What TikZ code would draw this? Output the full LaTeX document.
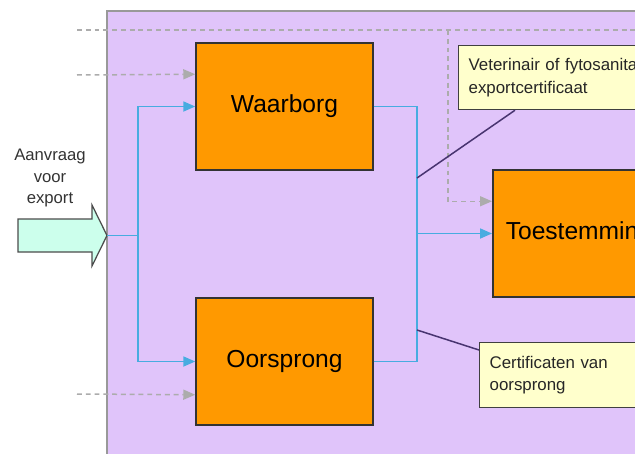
\documentclass[tikz,border=0pt]{standalone}
\usepackage{fontspec}
\setmainfont{Liberation Sans}
\usepackage{xcolor}
\usepackage{tikz}
\usetikzlibrary{arrows.meta,calc}

\definecolor{panelViolet}{RGB}{224,196,250}
\definecolor{boxOrange}{RGB}{255,153,0}
\definecolor{noteYellow}{RGB}{255,255,204}
\definecolor{flowBlue}{RGB}{72,172,224}
\definecolor{arrowMint}{RGB}{204,255,236}
\definecolor{dashGray}{RGB}{172,172,172}
\definecolor{pointerInk}{RGB}{72,52,112}

\tikzstyle{tsProcess} = [
    rectangle,
    draw=black!80,
    fill=boxOrange,
    line width=0.3mm,
    text=black,
    minimum width=3.54cm,
    minimum height=2.54cm,
    font=\fontsize{14}{17}\selectfont
]
\tikzstyle{tsNote} = [
    rectangle,
    draw=black!75,
    fill=noteYellow,
    line width=0.25mm,
    anchor=north west,
    align=left,
    text width=5cm,
    inner xsep=0.2cm,
    text=black!85,
    font=\fontsize{9.6}{12.8}\selectfont
]
\tikzstyle{tsFlow} = [
    draw=flowBlue,
    line width=0.35mm
]
\tikzstyle{tsFlowTip} = [
    tsFlow,
    -{Triangle[length=0.24cm,width=0.2cm]}
]
\tikzstyle{tsControl} = [
    draw=dashGray,
    line width=0.3mm,
    dash pattern=on 2.8pt off 2.2pt
]
\tikzstyle{tsControlTip} = [
    tsControl,
    -{Triangle[length=0.24cm,width=0.2cm,fill=dashGray]}
]
\tikzstyle{tsPointer} = [
    draw=pointerInk,
    line width=0.3mm
]

\begin{document}
\begin{tikzpicture}[x=0.02cm, y=-0.02cm]
        \useasboundingbox (0,0) rectangle (635,453);
        \clip (0,0) rectangle (635,453);

        % Panel
        \draw[fill=panelViolet, draw=black!40, line width=0.3mm] (107,11) rectangle (660,470);

        % Request arrow
        \draw[fill=arrowMint, draw=black!70, line width=0.25mm]
            (18,219) -- (92,219) -- (92,205) -- (107,235.5) -- (92,266) -- (92,252) -- (18,252) -- cycle;
        \coordinate (aanvraag) at (107,235.5);
        \node[align=center, text=black!80, font=\fontsize{9.5}{12}\selectfont]
            (aanvraagLabel) at (50,178) {Aanvraag\\voor\\export};

        % Define nodes
        \node[tsProcess] (waarborg) at (284.5,106.5) {Waarborg};
        \node[tsProcess] (oorsprong) at (284.5,361.5) {Oorsprong};
        \node[  tsProcess,
                anchor=west,
                text width=3.68cm,
                inner xsep=0.26cm,
                align=left] (toestemming) at (492,233.5) {Toestemming};

        \node[tsNote, minimum height=1.28cm] (veterinair) at (458,45)
            {Veterinair of fytosanitair\\exportcertificaat};
        \node[tsNote, minimum height=1.3cm] (certificaten) at (479,342)
            {Certificaten van\\oorsprong};

        % Control lines
        \coordinate (ctrlTop) at (77,30);
        \coordinate (ctrlTopEnd) at (640,30);
        \coordinate (ctrlBranch) at (448,30);
        \coordinate (ctrlWaarborg) at (77,75);
        \coordinate (ctrlOorsprong) at (77,394);
        \draw[tsControl] (ctrlTop) -- (ctrlTopEnd);
        \draw[tsControlTip] (ctrlBranch) |- ([yshift=-0.64cm]toestemming.north west);
        \draw[tsControlTip] (ctrlWaarborg) -- ([yshift=-0.64cm]waarborg.north west);
        \draw[tsControlTip] (ctrlOorsprong) -- ([yshift=0.62cm]oorsprong.south west);

        % Flow lines
        \coordinate (split) at (138,235.5);
        \coordinate (join) at (417,233.5);
        \draw[tsFlow] (aanvraag) -- (split);
        \draw[tsFlowTip] (split) |- (waarborg.west);
        \draw[tsFlowTip] (split) |- (oorsprong.west);
        \draw[tsFlow] (waarborg.east) -| (join);
        \draw[tsFlow] (oorsprong.east) -| (join);
        \draw[tsFlowTip] (join) -- (toestemming.west);

        % Note pointers
        \coordinate (tapUpper) at (417,178);
        \coordinate (tapLower) at (417,330);
        \draw[tsPointer] ([xshift=1.14cm]veterinair.south west) -- (tapUpper);
        \draw[tsPointer] ([yshift=-0.16cm]certificaten.north west) -- (tapLower);

    \end{tikzpicture}
\end{document}
